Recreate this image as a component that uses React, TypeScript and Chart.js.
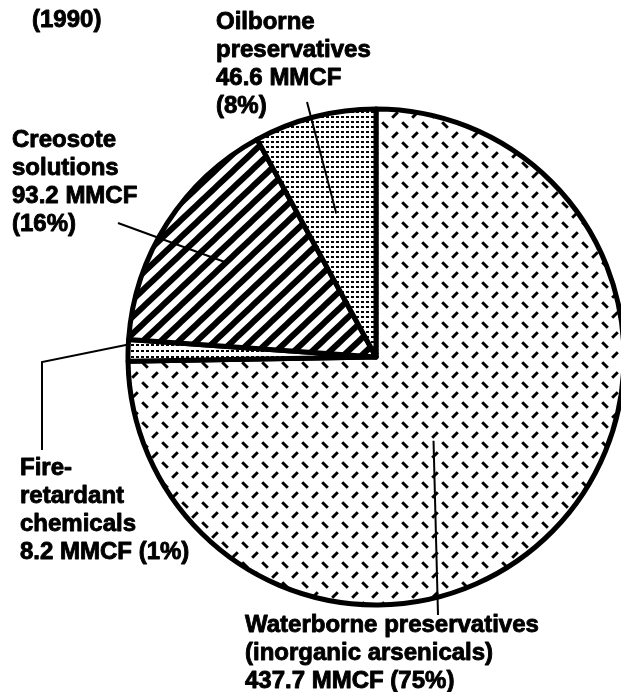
import React, { useEffect, useRef } from "react";
import { Chart, registerables } from "chart.js";

Chart.register(...registerables);

// ---- data ----
const categories = [
  "Waterborne preservatives (inorganic arsenicals)",
  "Fire-retardant chemicals",
  "Creosote solutions",
  "Oilborne preservatives",
];
const volumesMMCF = [437.7, 8.2, 93.2, 46.6];
const percentLabels = ["75%", "1%", "16%", "8%"];
const yearLabel = "(1990)";
const labelLines = [
  ["Waterborne preservatives", "(inorganic arsenicals)", "437.7 MMCF (75%)"],
  ["Fire-", "retardant", "chemicals", "8.2 MMCF (1%)"],
  ["Creosote", "solutions", "93.2 MMCF", "(16%)"],
  ["Oilborne", "preservatives", "46.6 MMCF", "(8%)"],
];

// ---- layout (text positions and leader-line anchors) ----
const W = 621;
const H = 692;
const FONT = 'bold 24px "Liberation Sans", Arial, sans-serif';
const LINE_H = 28;
const yearPos = { x: 32, y: 27 };
const labelLayout = [
  { x: 245, y: 632, path: [[438, 615]], angleFrac: 0.541, radiusFrac: 0.41 },
  { x: 20, y: 475, path: [[42, 450], [42, 362]], angleFrac: 0.77, radiusFrac: 1.0 },
  { x: 12, y: 147, path: [[118, 223]], angleFrac: 0.49, radiusFrac: 0.72 },
  { x: 216, y: 29, path: [[307, 102]], angleFrac: 0.46, radiusFrac: 0.6 },
];

function makePattern(w: number, h: number, draw: (c: CanvasRenderingContext2D) => void) {
  const cv = document.createElement("canvas");
  cv.width = w;
  cv.height = h;
  const c = cv.getContext("2d")!;
  c.fillStyle = "#fff";
  c.fillRect(0, 0, w, h);
  c.fillStyle = "#000";
  c.strokeStyle = "#000";
  draw(c);
  const ctx = document.createElement("canvas").getContext("2d")!;
  return ctx.createPattern(cv, "repeat")!;
}

function buildPatterns() {
  const dashes = makePattern(20, 20, (c) => {
    c.lineWidth = 3;
    c.lineCap = "butt";
    const d = 2.8;
    c.beginPath();
    c.moveTo(5 - d, 5 - d);
    c.lineTo(5 + d, 5 + d);
    c.moveTo(15 - d, 15 + d);
    c.lineTo(15 + d, 15 - d);
    c.stroke();
  });
  const fireDots = makePattern(5, 6, (c) => {
    c.fillRect(1, 2, 3, 2);
  });
  const stripes = makePattern(18, 17, (c) => {
    c.lineWidth = 6;
    c.lineCap = "square";
    c.beginPath();
    for (const off of [-18, 0, 18]) {
      c.moveTo(off - 2, 17 + 2 * (17 / 18));
      c.lineTo(off + 18 + 2, -2 * (17 / 18));
    }
    c.stroke();
  });
  const oilDots = makePattern(5, 5, (c) => {
    c.fillRect(1, 1, 3, 2);
  });
  return [dashes, fireDots, stripes, oilDots];
}

const labelPlugin = {
  id: "sliceLabels",
  afterDatasetsDraw(chart: any) {
    const ctx: CanvasRenderingContext2D = chart.ctx;
    const arcs = chart.getDatasetMeta(0).data;
    ctx.save();
    ctx.strokeStyle = "#000";
    ctx.fillStyle = "#000";
    ctx.lineWidth = 2;
    ctx.lineCap = "butt";
    labelLayout.forEach((l, i) => {
      const arc = arcs[i];
      const p = arc.getProps(["x", "y", "startAngle", "endAngle", "outerRadius"], true);
      const a = p.startAngle + (p.endAngle - p.startAngle) * l.angleFrac;
      const r = p.outerRadius * l.radiusFrac;
      const ax = p.x + r * Math.cos(a);
      const ay = p.y + r * Math.sin(a);
      ctx.beginPath();
      ctx.moveTo(l.path[0][0], l.path[0][1]);
      for (let k = 1; k < l.path.length; k++) ctx.lineTo(l.path[k][0], l.path[k][1]);
      ctx.lineTo(ax, ay);
      ctx.stroke();
    });
    ctx.font = FONT;
    ctx.textBaseline = "alphabetic";
    ctx.textAlign = "left";
    ctx.lineWidth = 0.9;
    ctx.lineJoin = "round";
    const put = (t: string, x: number, y: number) => {
      ctx.fillText(t, x, y);
      ctx.strokeText(t, x, y);
    };
    put(yearLabel, yearPos.x, yearPos.y);
    labelLayout.forEach((l, i) => {
      labelLines[i].forEach((t, k) => put(t, l.x, l.y + k * LINE_H));
    });
    ctx.restore();
  },
};

export default function App() {
  const ref = useRef<HTMLCanvasElement | null>(null);
  useEffect(() => {
    if (!ref.current) return;
    const patterns = buildPatterns();
    const chart = new Chart(ref.current, {
      type: "pie",
      data: {
        labels: categories,
        datasets: [
          {
            data: volumesMMCF,
            backgroundColor: patterns,
            borderColor: "#000",
            borderWidth: 5,
            borderJoinStyle: "round",
            clip: false,
          } as any,
        ],
      },
      options: {
        responsive: false,
        animation: false,
        radius: 248,
        layout: { padding: { left: 131, right: 0, top: 100, bottom: 78 } },
        plugins: {
          legend: { display: false },
          tooltip: { enabled: false },
          title: { display: false },
        },
      } as any,
      plugins: [labelPlugin],
    });
    return () => chart.destroy();
  }, []);
  return (
    <div style={{ position: "absolute", left: 0, top: 0, width: W, height: H, background: "#fff" }}>
      <canvas ref={ref} width={W} height={H} style={{ display: "block" }} />
    </div>
  );
}
